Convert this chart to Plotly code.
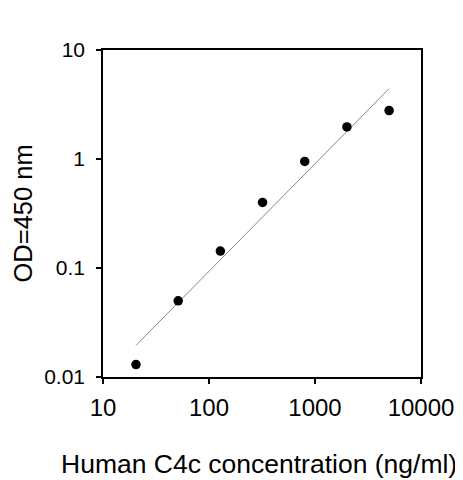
import plotly.graph_objects as go

# Concentração (ng/ml) e leitura OD a 450 nm
conc = [20.48, 51.2, 128, 320, 800, 2000, 5000]
od450 = [0.013, 0.050, 0.143, 0.40, 0.95, 1.97, 2.78]

# Recta de ajuste (extremos)
fit_conc = [20.48, 5000]
fit_od = [0.0195, 4.42]

x_ticks = [10, 100, 1000, 10000]
x_labels = ["10", "100", "1000", "10000"]
y_ticks = [0.01, 0.1, 1, 10]
y_labels = ["0.01", "0.1", "1", "10"]

font_family = "Liberation Sans, Arial, sans-serif"

fig = go.Figure()

fig.add_trace(go.Scatter(
    x=fit_conc, y=fit_od, mode="lines",
    line=dict(color="#888888", width=1),
    hoverinfo="skip"
))

fig.add_trace(go.Scatter(
    x=conc, y=od450, mode="markers",
    marker=dict(color="black", size=9.5)
))

# a página tem 8px de margem no body
fig.update_layout(
    width=455, height=472,
    margin=dict(l=95, r=42, t=42, b=103),
    plot_bgcolor="white", paper_bgcolor="white",
    showlegend=False,
    font=dict(family=font_family, color="black", size=22)
)

fig.update_xaxes(
    type="log", range=[1, 4], automargin=False,
    tickvals=x_ticks, ticktext=x_labels,
    ticks="outside", ticklen=5, tickwidth=1.5, tickcolor="black",
    showline=True, linecolor="black", linewidth=1.5, mirror=True,
    showgrid=False, zeroline=False,
    tickfont=dict(size=24), ticklabelstandoff=3
)

fig.update_yaxes(
    type="log", range=[-2, 1], automargin=False,
    tickvals=y_ticks, ticktext=y_labels,
    ticks="outside", ticklen=5, tickwidth=1.5, tickcolor="black",
    showline=True, linecolor="black", linewidth=1.5, mirror=True,
    showgrid=False, zeroline=False,
    tickfont=dict(size=21), ticklabelstandoff=7
)

# títulos dos eixos como anotações, para os posicionar à mão
fig.add_annotation(
    text="Human C4c concentration (ng/ml)",
    xref="paper", yref="paper", x=0.5, y=0,
    xanchor="center", yanchor="middle", xshift=-3, yshift=-87,
    showarrow=False, font=dict(size=26.5)
)
fig.add_annotation(
    text="OD=450 nm",
    xref="paper", yref="paper", x=0, y=0.5,
    xanchor="center", yanchor="middle", xshift=-81,
    textangle=-90, showarrow=False, font=dict(size=25.5)
)

fig.write_html("out.html")
